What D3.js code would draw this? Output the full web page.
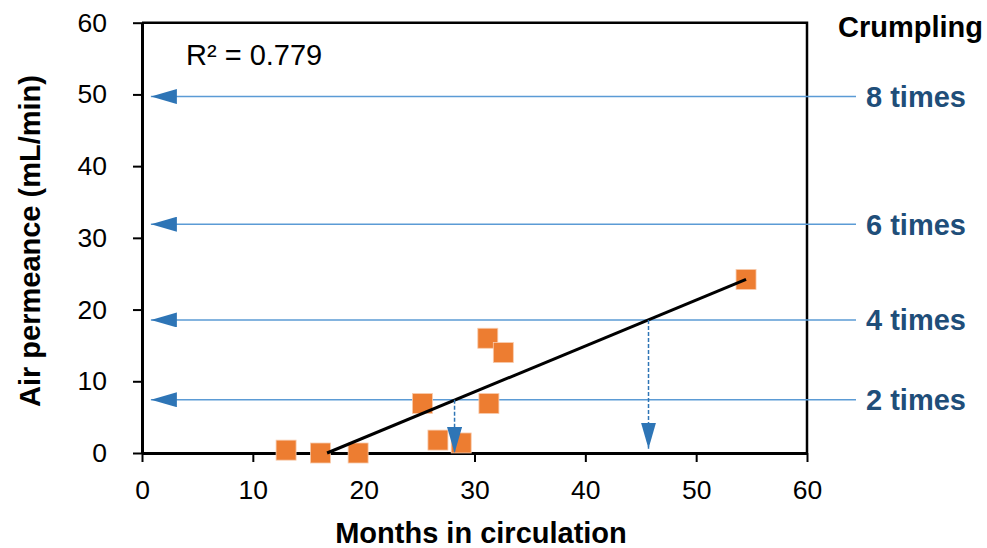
<!DOCTYPE html>
<html>
<head>
<meta charset="utf-8">
<script src="https://cdn.jsdelivr.net/npm/d3@7"></script>
<style>
  body { margin: 0; background: #fff; }
  text { font-family: "Liberation Sans", Arial, sans-serif; }
</style>
</head>
<body>
<div id="container"></div>
<script>
/* DATA */
const months = [13.0, 16.1, 19.5, 25.3, 26.7, 28.8, 31.2, 32.6, 31.3, 54.5];
const permeance = [0.4, 0.0, 0.0, 6.9, 1.8, 1.4, 16.0, 14.0, 6.9, 24.2];
const trendX = [16.7, 54.5];
const trendY = [0.0, 24.2];
const crumplingLabels = ["8 times", "6 times", "4 times", "2 times"];
const crumplingLevels = [49.7, 31.9, 18.55, 7.43];
const dropX = [28.2, 45.7];
const dropFrom = [7.43, 18.55];
const dropTo = [0.0, 0.6];
const xTicks = [0, 10, 20, 30, 40, 50, 60];
const yTicks = [0, 10, 20, 30, 40, 50, 60];

/* CONSTANTS */
const width = 987, height = 548;
const plotLeft = 142, plotRight = 807, plotTop = 22.7, plotBottom = 453;
const orange = "#ED7D31", lineBlue = "#5B9BD5", headBlue = "#2E75B6", labelBlue = "#1F4E79";

const xScale = d3.scaleLinear().domain([0, 60]).range([plotLeft, plotRight]);
const yScale = d3.scaleLinear().domain([0, 60]).range([plotBottom, plotTop]);

const svg = d3.select("#container").append("svg")
  .attr("width", width)
  .attr("height", height);

// FRAME (top and right)
svg.append("path")
  .attr("d", `M${plotLeft},${plotTop}H${plotRight}V${plotBottom}`)
  .attr("fill", "none")
  .attr("stroke", "#000")
  .attr("stroke-width", 2.5);

// AXES
const xAxis = d3.axisBottom(xScale).tickValues(xTicks).tickSize(9).tickPadding(18).tickSizeOuter(0);
const yAxis = d3.axisLeft(yScale).tickValues(yTicks).tickSize(9).tickPadding(26).tickSizeOuter(0);

const gx = svg.append("g").attr("transform", `translate(0,${plotBottom})`).call(xAxis);
const gy = svg.append("g").attr("transform", `translate(${plotLeft},0)`).call(yAxis);

[gx, gy].forEach(g => {
  g.select(".domain").attr("stroke", "#000").attr("stroke-width", 3);
  g.selectAll(".tick line").attr("stroke", "#000").attr("stroke-width", 2);
  g.selectAll(".tick text")
    .attr("fill", "#000")
    .style("font-size", "26.5px")
    .style("font-family", "'Liberation Sans', Arial, sans-serif");
});

// ARROW HEADS
const defs = svg.append("defs");
defs.append("marker")
  .attr("id", "head")
  .attr("viewBox", "0 0 26 15")
  .attr("refX", 26).attr("refY", 7.5)
  .attr("markerWidth", 26).attr("markerHeight", 15)
  .attr("markerUnits", "userSpaceOnUse")
  .attr("orient", "auto")
  .append("path")
  .attr("d", "M0,0L26,7.5L0,15Z")
  .attr("fill", headBlue);

// HORIZONTAL ARROWS
svg.selectAll("line.level")
  .data(crumplingLevels)
  .join("line")
  .attr("class", "level")
  .attr("x1", 856)
  .attr("x2", xScale(0.8))
  .attr("y1", d => yScale(d))
  .attr("y2", d => yScale(d))
  .attr("stroke", lineBlue)
  .attr("stroke-width", 1.6)
  .attr("marker-end", "url(#head)");

svg.selectAll("text.level")
  .data(crumplingLabels)
  .join("text")
  .attr("class", "level")
  .attr("x", 866)
  .attr("y", (d, i) => yScale(crumplingLevels[i]))
  .attr("dy", "0.36em")
  .attr("fill", labelBlue)
  .style("font-size", "29px")
  .style("font-weight", "bold")
  .text(d => d);

svg.append("text")
  .attr("x", 838)
  .attr("y", 37)
  .attr("fill", "#000")
  .style("font-size", "29px")
  .style("font-weight", "bold")
  .text("Crumpling");

// DATA POINTS
const pts = months.map((m, i) => [m, permeance[i]]);
svg.selectAll("rect.pt")
  .data(pts)
  .join("rect")
  .attr("class", "pt")
  .attr("x", d => xScale(d[0]) - 10)
  .attr("y", d => yScale(d[1]) - 10)
  .attr("width", 20)
  .attr("height", 20)
  .attr("fill", orange)
  .attr("stroke", "#F8CBAD")
  .attr("stroke-width", 0.8);

// TREND LINE
const lineGen = d3.line().x(d => xScale(d[0])).y(d => yScale(d[1]));
svg.append("path")
  .datum(trendX.map((x, i) => [x, trendY[i]]))
  .attr("d", lineGen)
  .attr("fill", "none")
  .attr("stroke", "#000")
  .attr("stroke-width", 3);

// VERTICAL DASHED ARROWS
svg.selectAll("line.drop")
  .data(dropX)
  .join("line")
  .attr("class", "drop")
  .attr("x1", d => xScale(d))
  .attr("x2", d => xScale(d))
  .attr("y1", (d, i) => yScale(dropFrom[i]))
  .attr("y2", (d, i) => yScale(dropTo[i]))
  .attr("stroke", headBlue)
  .attr("stroke-width", 1.5)
  .attr("stroke-dasharray", "4,2")
  .attr("marker-end", "url(#head)");

// R2 LABEL
svg.append("text")
  .attr("x", 186)
  .attr("y", 65)
  .attr("fill", "#000")
  .style("font-size", "29px")
  .text("R² = 0.779");

// AXIS TITLES
svg.append("text")
  .attr("x", 481)
  .attr("y", 543)
  .attr("text-anchor", "middle")
  .attr("fill", "#000")
  .style("font-size", "29px")
  .style("font-weight", "bold")
  .text("Months in circulation");

svg.append("text")
  .attr("transform", `translate(40,241) rotate(-90)`)
  .attr("text-anchor", "middle")
  .attr("fill", "#000")
  .style("font-size", "29px")
  .style("font-weight", "bold")
  .text("Air permeance (mL/min)");
</script>
</body>
</html>
